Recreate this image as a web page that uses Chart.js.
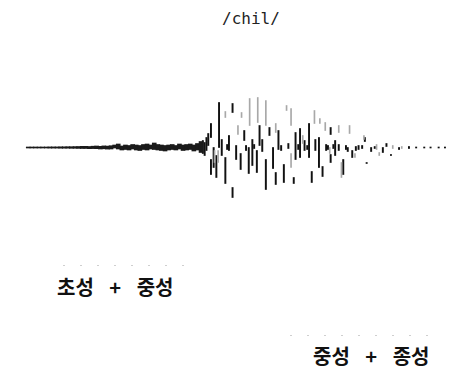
<!DOCTYPE html>
<html>
<head>
<meta charset="utf-8">
<script src="https://cdn.jsdelivr.net/npm/chart.js@4"></script>
<style>
  body { margin: 0; width: 475px; height: 370px; background: #fff; position: relative; overflow: hidden; }
  #wave { position: absolute; left: 0; top: 81px; width: 475px; height: 133px; }
  .txt { position: absolute; white-space: pre; color: #111; }
  #title { left: 222px; top: 11px; font: 16px "DejaVu Sans Mono", monospace; line-height: 16px; color: #222; }
  .kor { font: bold 20px "Noto Sans CJK KR", sans-serif; line-height: 20px; word-spacing: 11px; }
  .dots { position: absolute; height: 1px;
          background: repeating-linear-gradient(90deg, #cfcfcf 0 2px, transparent 2px 17px); }
</style>
</head>
<body>
<div id="title" class="txt">/chil/</div>
<div id="wave"><canvas id="chart"></canvas></div>
<div class="dots" style="left:63px; top:265px; width:134px;"></div>
<div class="dots" style="left:290px; top:335px; width:152px;"></div>
<div class="txt kor" style="left:57px; top:277px;">초성 + 중성</div>
<div class="txt kor" style="left:313px; top:346px;">중성 + 종성</div>
<script>
// quiet onset: time (ms) and amplitude envelope
const noiseTimes = [5, 9, 13, 17, 21, 25, 29, 33, 37, 41, 45, 49, 53, 57, 61, 65, 69, 73, 77, 81, 85, 89, 93, 97,
  101, 105, 109, 113, 117, 121, 125, 129, 133, 137, 141, 145, 149, 153, 157, 161, 165, 169, 173, 177, 181, 185, 189, 193, 197];
const noiseTops = [0.5, 0.5, 0.5, 0.5, 0.5, 0.5, 0.6, 0.6, 0.6, 0.7, 0.7, 0.8, 0.8, 0.9, 1, 1.2, 1.2, 1, 1.3, 1.5, 1.2, 1.6, 1.4, 1.8,
  2.5, 3.5, 1.5, 2.5, 2, 3, 2.5, 2, 3, 3.5, 2.5, 4.5, 3, 2.5, 2, 2.5, 3, 2, 3.5, 2.5, 3, 3.5, 2.5, 4, 6];
const noiseBottoms = [-0.5, -0.5, -0.5, -0.5, -0.5, -0.5, -0.6, -0.6, -0.6, -0.7, -0.7, -0.7, -0.8, -0.8, -0.9, -1, -1, -1.2, -1.1, -1.2, -1.5, -1.3, -1.6, -1.5,
  -0.5, -1.5, -2.5, -2, -2.5, -1.5, -2.5, -3, -2, -2.5, -1.5, -2, -2.5, -3, -3.5, -2.5, -2, -2.5, -1.5, -3, -2.5, -2, -3.5, -2.5, -5];

// voiced part: strong strokes
const burstTimes = [199, 201, 203, 205, 208, 208, 211, 214, 217, 220, 224, 226, 228, 232, 232, 236, 241, 245, 247, 250,
  254, 256, 259, 262, 265, 269, 273, 277, 280, 283, 286, 289, 294, 300, 302, 305, 307, 312, 315, 317,
  320, 324, 328, 332, 336, 338, 341, 341, 344, 346, 350, 355, 358, 360, 365, 369, 372, 376, 379, 381,
  386, 390, 399, 403, 408, 417, 428, 436, 445, 452, 461, 468];
const burstTops = [7, 5, 10, 14, 24, -12, 0, -8, 45, 8, -10, 3, 12, 44, -40, 2, -6, 17, 2, 0,
  8, 3, -3, 22, 8, -12, 20, 0, -25, 17, 2, -17, 4, -30, 15, 3, 19, 7, 2, 24,
  -24, 8, 10, -19, 3, 2, 20, -7, 3, 7, 3, -12, 2, 0, -3, 1, 2, 2, 10, -15,
  0, 1, 0, 4, -7, 0, 1, 0.5, 0.5, 0.5, 0.5, 0.5];
const burstBottoms = [-6, -8, -3, 2, 10, -27, -20, -30, 0, -8, -36, -2, -3, 35, -50, -12, -22, 7, -3, -26,
  -18, -1, -25, 2, -4, -42, 12, -21, -37, -2, -3, -35, -1, -36, -12, -2, -10, -3, -2, -10,
  -35, -3, -20, -29, -3, -2, 13, -15, -1, -8, -3, -27, -2, -4, -10, -3, -2, -1, 6, -16,
  -4, -1, -5, 1, -8, -2, -1, -0.5, -0.5, -0.5, -0.5, -0.5];

// voiced part: faint strokes
const faintTimes = [212, 216, 224, 238, 242, 251, 260, 269, 280, 292, 297, 297, 310, 323, 329, 335, 340, 350, 353, 362,
  368, 378, 392, 395, 410, 420];
const faintTops = [-3, -3, 36, 22, 35, 49, 50, 47, 24, 42, 39, -6, 12, 37, 29, 25, 0, 22, -15, 22,
  -6, 12, 3, -5, 2, 1];
const faintBottoms = [-15, -15, 30, 13, 30, 22, 25, 22, 15, 37, 22, -20, 4, 24, 24, 17, -6, 15, -30, 14,
  -10, 8, -2, -8, -1, -1];

function strokes(ts, tops, bottoms) {
  return ts.map((t, i) => ({x: t, y: [bottoms[i], tops[i]]}));
}

new Chart("chart", {
  type: "bar",
  data: {
    datasets: [{
      data: strokes(noiseTimes, noiseTops, noiseBottoms),
      backgroundColor: "#1a1a1a",
      barThickness: 4,
      grouped: false
    },
    {
      data: strokes(faintTimes, faintTops, faintBottoms),
      backgroundColor: "#a8a8a8",
      barThickness: 1,
      grouped: false
    },
    {
      data: strokes(burstTimes, burstTops, burstBottoms),
      backgroundColor: "#111",
      barThickness: 1.3,
      grouped: false
    }]
  },
  options: {
    responsive: true,
    maintainAspectRatio: false,
    animation: false,
    layout: { padding: 0 },
    plugins: { legend: { display: false }, tooltip: { enabled: false } },
    scales: {
      x: { type: "linear", min: 0, max: 475, display: false },
      y: { min: -66.5, max: 66.5, display: false }
    }
  }
});
</script>
</body>
</html>
